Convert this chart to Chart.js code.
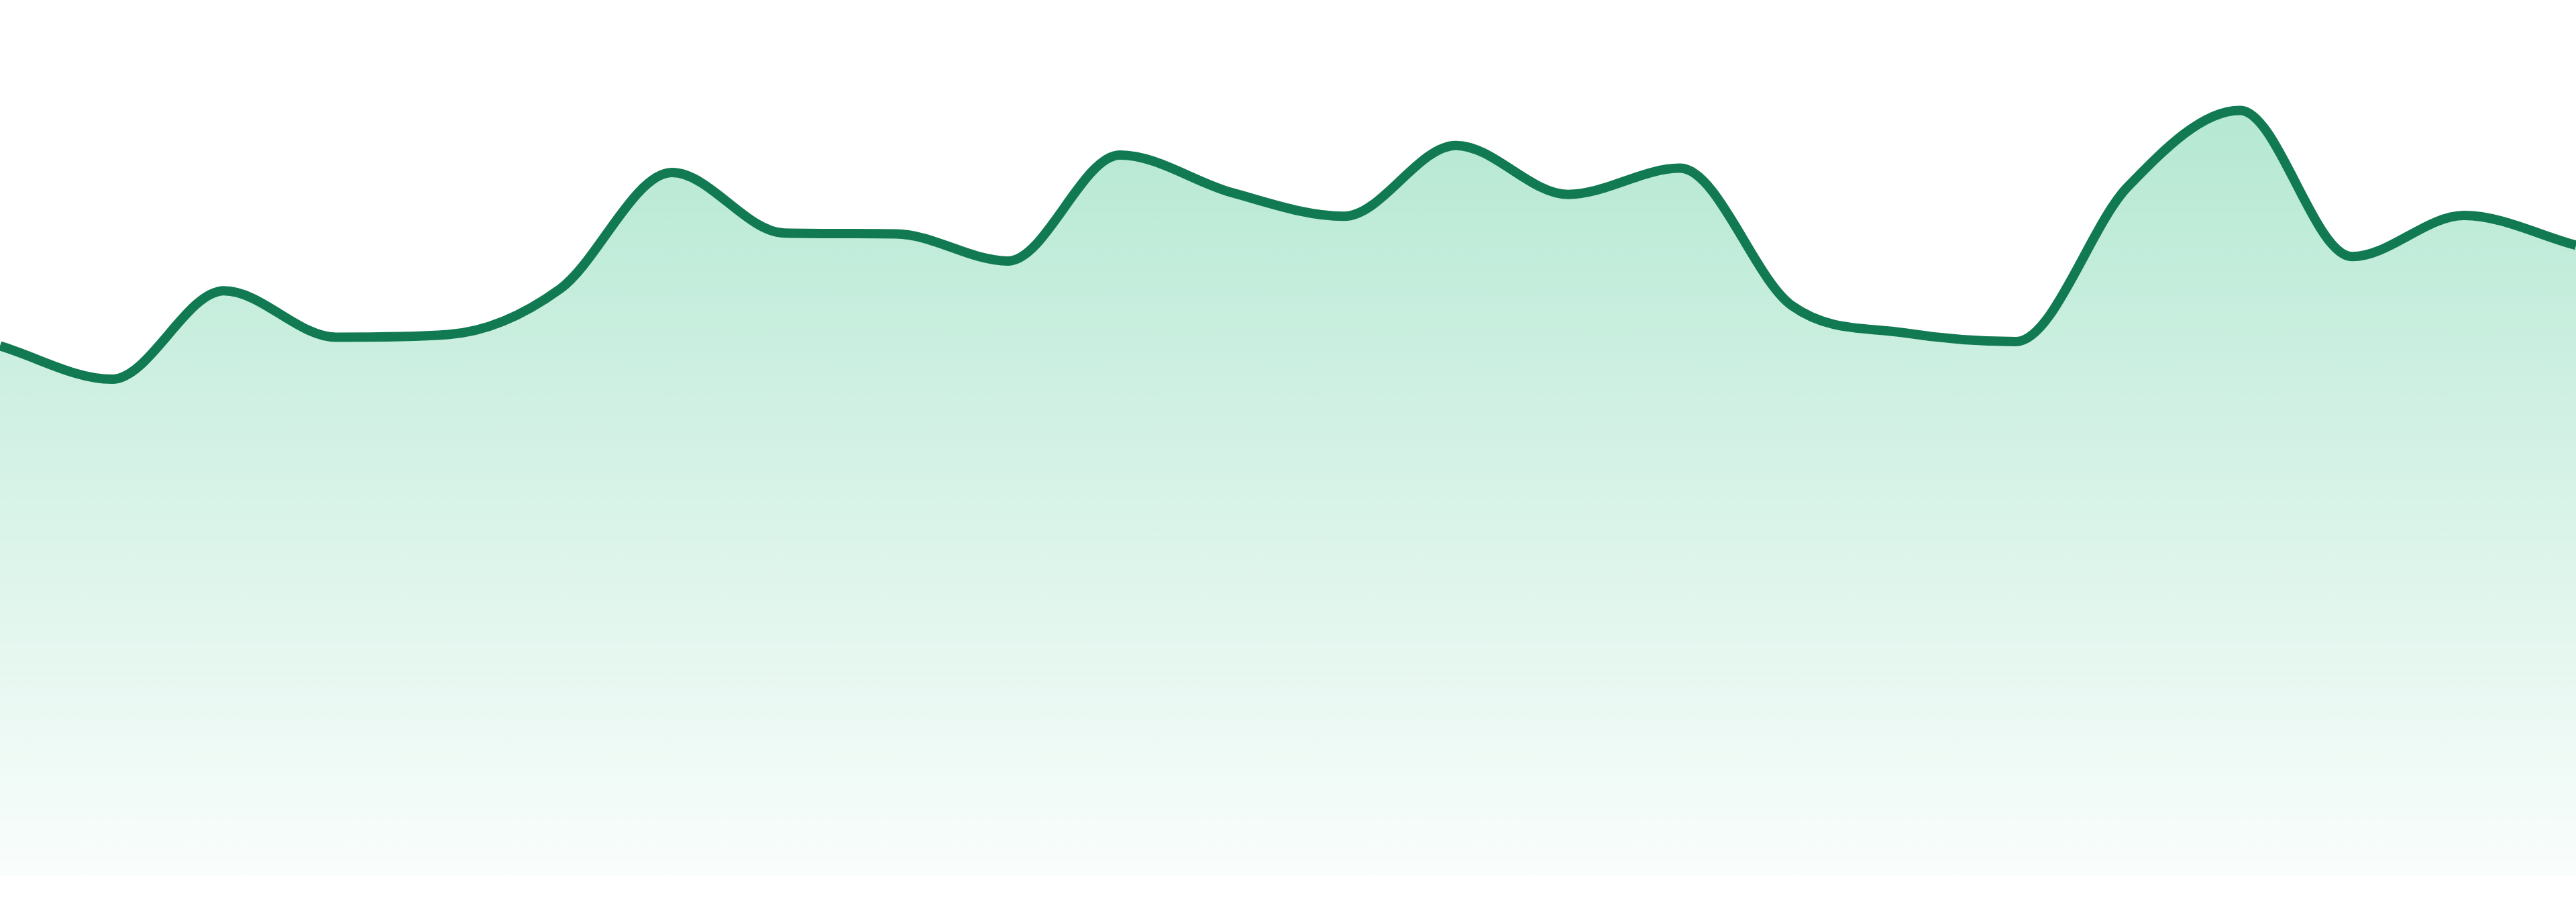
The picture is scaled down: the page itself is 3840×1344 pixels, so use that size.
<!DOCTYPE html>
<html>
<head>
<meta charset="utf-8">
<script src="https://cdn.jsdelivr.net/npm/chart.js@4/dist/chart.umd.min.js"></script>
<style>
  html, body { margin: 0; padding: 0; background: #fff; }
  #wrap { width: 3840px; height: 1344px; position: relative; }
</style>
</head>
<body>
<div id="wrap"><canvas id="chart"></canvas></div>
<script>
// values, one per column
const labels = ["1", "2", "3", "4", "5", "6", "7", "8", "9", "10", "11", "12",
  "13", "14", "15", "16", "17", "18", "19", "20", "21", "22", "23", "24"];
const values = [60.5, 56.7, 66.8, 61.5, 61.8, 67.0, 80.3, 73.4, 73.3, 70.2, 82.3, 78.0,
  75.3, 83.4, 77.8, 80.8, 65.1, 62.0, 61.0, 78.7, 87.4, 70.7, 75.4, 72.0];
const yMin = 0;
const yMax = 100;

function areaFill(context) {
  const { chart } = context;
  const area = chart.chartArea;
  if (!area) return "rgba(16, 185, 129, 0.2)";
  const g = chart.ctx.createLinearGradient(0, area.top, 0, area.bottom);
  g.addColorStop(0, "rgba(20, 182, 115, 0.36)");
  g.addColorStop(0.2, "rgba(20, 182, 115, 0.29)");
  g.addColorStop(1, "rgba(20, 182, 115, 0.025)");
  return g;
}

new Chart(document.getElementById("chart"), {
  type: "line",
  data: {
    labels,
    datasets: [{
      data: values,
      borderColor: "#127a52",
      borderWidth: 14,
      backgroundColor: areaFill,
      fill: "origin",
      cubicInterpolationMode: "monotone",
      pointRadius: 0,
      pointHoverRadius: 0,
    }],
  },
  options: {
    responsive: true,
    maintainAspectRatio: false,
    animation: false,
    layout: { padding: { top: 0, bottom: 39, left: 0, right: 0 } },
    plugins: { legend: { display: false }, tooltip: { enabled: false } },
    scales: {
      x: { display: false, offset: false },
      y: { display: false, min: yMin, max: yMax },
    },
  },
});
</script>
</body>
</html>
